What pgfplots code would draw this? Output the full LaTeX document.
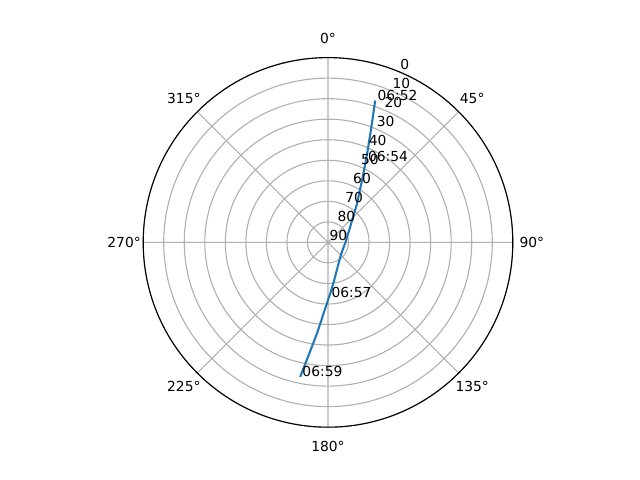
\documentclass[border=0pt]{standalone}
\usepackage{fontspec}
\setmainfont{DejaVu Sans}
\usepackage{pgfplots}
\pgfplotsset{compat=1.18}
\usepgfplotslibrary{polar}
\usepackage{pgfplotstable}

\definecolor{mplblue}{HTML}{1F77B4}
\definecolor{gridgray}{HTML}{B0B0B0}

% satellite pass: azimuth (deg, clockwise from north), elevation (deg)
\pgfplotstableread{
az    el
18.4  17.2
20.7  30.4
24.0  43.4
28.2  54.4
37.5  67.1
59.7  78.0
92.0  81.6
117.3 82.0
140.1 80.7
170.6 71.4
176.9 65.8
182.8 57.0
186.8 45.6
189.5 35.4
191.7 23.1
}\passtrack

\pgfplotstableread{
az    el   label
18.4  17.2 06:52
25.0  46.5 06:54
178.7 63.4 06:57
191.7 23.1 06:59
}\passtimes

\begin{document}
\begin{tikzpicture}
\useasboundingbox (0,0) rectangle (6.4in,4.8in);
\begin{polaraxis}[
  at={(3.28in,2.376in)}, anchor=center,
  scale only axis, width=3.696in, height=3.696in,
  xmin=0, xmax=360, ymin=0, ymax=90,
  xtick={0,45,...,315}, ytick={0,10,...,90},
  xticklabels={}, yticklabels={},
  grid=major,
  major grid style={gridgray, line width=0.8pt},
  x axis line style={black, line width=0.8pt},
  y axis line style={draw=none},
  major tick length=0pt,
  clip=false,
]
  % angle is 90 - azimuth, radius is 90 - elevation
  \addplot[mplblue, line width=1.5pt, mark=none]
    table[x expr=90-\thisrow{az}, y expr=90-\thisrow{el}] {\passtrack};
  \addplot[draw=none, mark=none, nodes near coords, point meta=explicit symbolic,
    every node near coord/.style={anchor=base west, inner sep=0pt, xshift=1.5pt, text=black}]
    table[x expr=90-\thisrow{az}, y expr=90-\thisrow{el}, meta=label] {\passtimes};

  % compass labels
  \node at (axis cs:90,99.3)  {0°};
  \node at (axis cs:45,99.3)  {45°};
  \node at (axis cs:0,99.3)   {90°};
  \node at (axis cs:-45,99.3) {135°};
  \node at (axis cs:-90,99.3) {180°};
  \node at (axis cs:-135,99.3){225°};
  \node at (axis cs:180,99.3) {270°};
  \node at (axis cs:135,99.3) {315°};

  % elevation labels
  \node[anchor=south west, inner sep=0pt, xshift=1pt, yshift=1pt] at (axis cs:67.5,90) {0};
  \node[anchor=south west, inner sep=0pt, xshift=1pt, yshift=1pt] at (axis cs:67.5,80) {10};
  \node[anchor=south west, inner sep=0pt, xshift=1pt, yshift=1pt] at (axis cs:67.5,70) {20};
  \node[anchor=south west, inner sep=0pt, xshift=1pt, yshift=1pt] at (axis cs:67.5,60) {30};
  \node[anchor=south west, inner sep=0pt, xshift=1pt, yshift=1pt] at (axis cs:67.5,50) {40};
  \node[anchor=south west, inner sep=0pt, xshift=1pt, yshift=1pt] at (axis cs:67.5,40) {50};
  \node[anchor=south west, inner sep=0pt, xshift=1pt, yshift=1pt] at (axis cs:67.5,30) {60};
  \node[anchor=south west, inner sep=0pt, xshift=1pt, yshift=1pt] at (axis cs:67.5,20) {70};
  \node[anchor=south west, inner sep=0pt, xshift=1pt, yshift=1pt] at (axis cs:67.5,10) {80};
  \node[anchor=south west, inner sep=0pt, xshift=1pt, yshift=1pt] at (axis cs:67.5,0)  {90};
\end{polaraxis}
\end{tikzpicture}
\end{document}
